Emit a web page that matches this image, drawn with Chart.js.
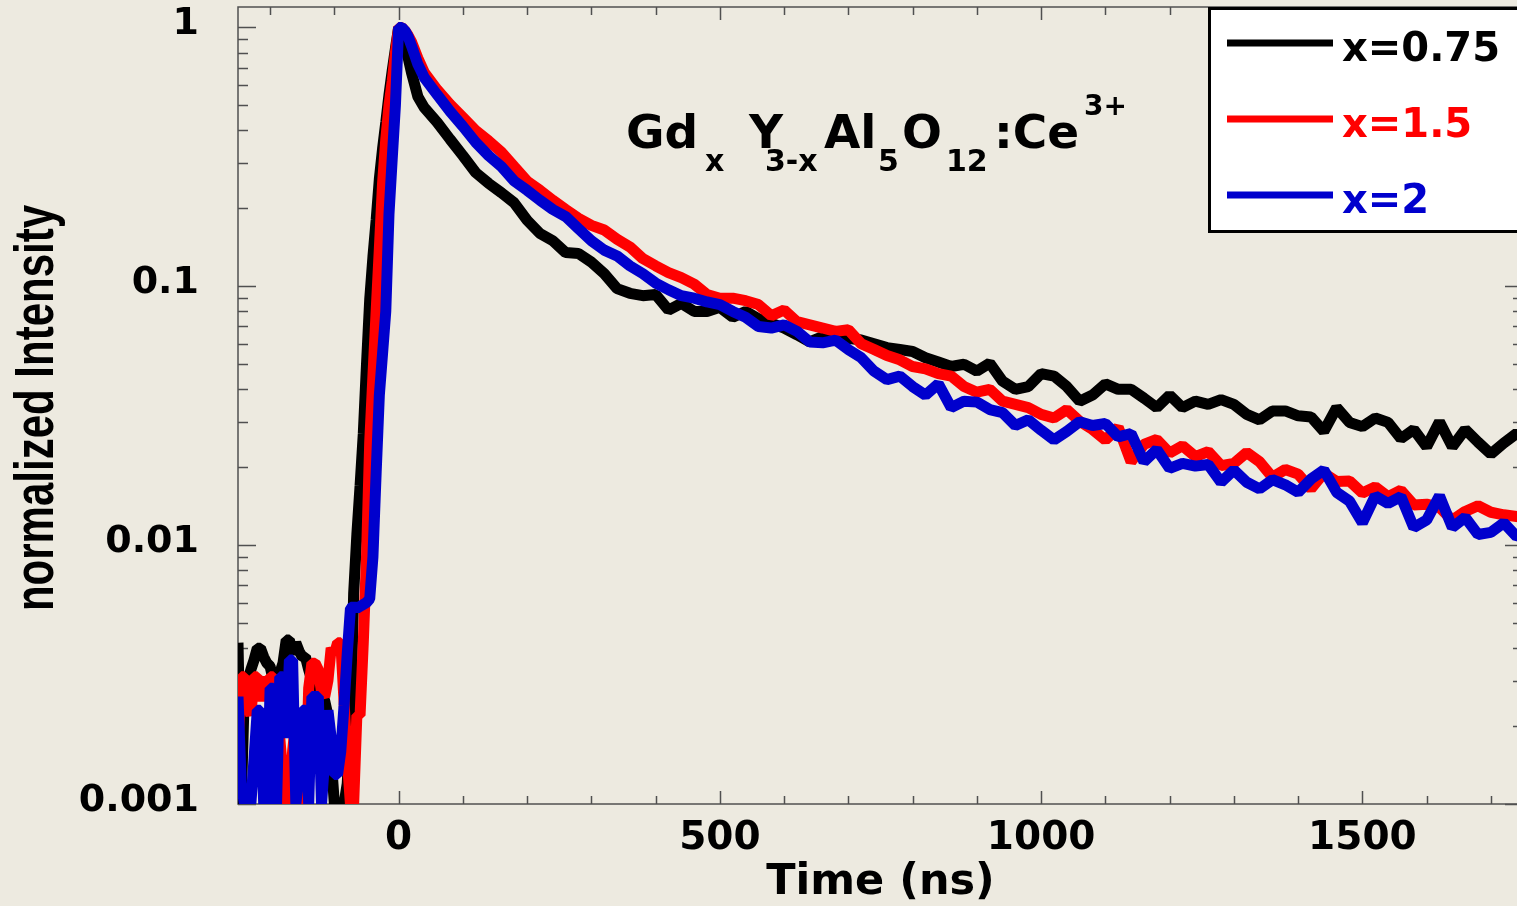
<!DOCTYPE html>
<html>
<head>
<meta charset="utf-8">
<title>GdxY3-xAl5O12:Ce3+ decay</title>
<script src="https://cdn.jsdelivr.net/npm/chart.js@4.4.1/dist/chart.umd.min.js"></script>
<style>
    html, body { margin: 0; padding: 0; overflow: hidden; background: #EDEAE0; }
    #wrap { width: 1524px; height: 906px; }
</style>
</head>
<body>
<div id="wrap"><canvas id="decayChart" width="1524" height="906"></canvas></div>
<script>
// Time axis (ns), shared by the three curves
const timeNs = [
    -250, -245, -240, -235, -230, -225, -220, -215, -210, -205,
    -200, -195, -190, -185, -180, -175, -170, -165, -160, -155,
    -150, -145, -140, -135, -130, -125, -120, -115, -110, -105,
    -100, -95, -90, -85, -80,
    -75, -70, -65, -60, -55, -50, -45, -40, -35, -30,
    -25, -20, -15, -10, -5, 0, 5, 10, 15, 20,
    30, 40, 60, 80, 100, 120, 140, 160, 180, 200,
    220, 240, 260, 280, 300, 320, 340, 360, 380, 400,
    420, 440, 460, 480, 500, 520, 540, 560, 580, 600,
    620, 640, 660, 680, 700, 720, 740, 760, 780, 800,
    820, 840, 860, 880, 900, 920, 940, 960, 980, 1000,
    1020, 1040, 1060, 1080, 1100, 1120, 1140, 1160, 1180, 1200,
    1220, 1240, 1260, 1280, 1300, 1320, 1340, 1360, 1380, 1400,
    1420, 1440, 1460, 1480, 1500, 1520, 1540, 1560, 1580, 1600,
    1620, 1640, 1660, 1680, 1700, 1720, 1740, 1750
];

// normalized intensity, x = 0.75
const x075Values = [
    0.0042, 0.001, 0.0028, 0.003, 0.0033, 0.0036, 0.004, 0.004, 0.0037, 0.0035,
    0.0034, 0.003, 0.0028, 0.0032, 0.0035, 0.0043, 0.0043, 0.0038, 0.0042, 0.0039,
    0.0037, 0.0037, 0.0033, 0.003, 0.003, 0.0028, 0.0027, 0.0025, 0.0022, 0.0015,
    0.001, 0.001, 0.001, 0.001, 0.0012,
    0.002, 0.0065, 0.011, 0.017, 0.027, 0.05, 0.089, 0.13, 0.18, 0.26,
    0.34, 0.43, 0.55, 0.68, 0.83, 1.0, 0.98, 0.86, 0.76, 0.67,
    0.54, 0.49, 0.43, 0.37, 0.32, 0.275, 0.25, 0.23, 0.21, 0.18,
    0.16, 0.15, 0.135, 0.134, 0.124, 0.112, 0.098, 0.094, 0.092, 0.093,
    0.081, 0.086, 0.080, 0.080, 0.083, 0.076, 0.080, 0.075, 0.072, 0.069,
    0.065, 0.061, 0.064, 0.067, 0.063, 0.062, 0.060, 0.058, 0.057, 0.056,
    0.053, 0.051, 0.049, 0.050, 0.047, 0.0505, 0.043, 0.040, 0.041, 0.046,
    0.045, 0.041, 0.036, 0.038, 0.042, 0.040, 0.040, 0.037, 0.034, 0.038,
    0.034, 0.036, 0.035, 0.0365, 0.035, 0.032, 0.0305, 0.033, 0.033, 0.0316,
    0.0313, 0.0275, 0.034, 0.0298, 0.0287, 0.031, 0.0298, 0.0258, 0.028, 0.024,
    0.030, 0.024, 0.028, 0.025, 0.0225, 0.0248, 0.027, 0.026
];

// normalized intensity, x = 1.5
const x15Values = [
    0.0017, 0.0031, 0.0031, 0.0024, 0.0022, 0.0031, 0.0031, 0.0025, 0.0031, 0.0025,
    0.0031, 0.0031, 0.0024, 0.0018, 0.0013, 0.001, 0.001, 0.0016, 0.0021, 0.0021,
    0.001, 0.001, 0.0028, 0.0035, 0.0035, 0.0033, 0.0027, 0.0026, 0.003, 0.004,
    0.0038, 0.0042, 0.0042, 0.0025, 0.0015,
    0.001, 0.001, 0.0022, 0.0022, 0.0042, 0.009, 0.025, 0.045, 0.08, 0.14,
    0.25, 0.37, 0.5, 0.62, 0.8, 1.0, 1.0, 0.97, 0.93, 0.88,
    0.76, 0.67, 0.575, 0.505, 0.45, 0.40, 0.365, 0.33, 0.29, 0.255,
    0.235, 0.215, 0.198, 0.183, 0.172, 0.165, 0.152, 0.142, 0.128, 0.12,
    0.113, 0.108, 0.102, 0.093, 0.09, 0.09, 0.088, 0.085, 0.077, 0.081,
    0.073, 0.071, 0.069, 0.067, 0.068, 0.060, 0.057, 0.054, 0.052, 0.049,
    0.048, 0.046, 0.045, 0.041, 0.039, 0.040, 0.036, 0.035, 0.034, 0.032,
    0.031, 0.0334, 0.0301, 0.028, 0.0255, 0.0285, 0.021, 0.0245, 0.0256, 0.0227,
    0.0242, 0.022, 0.023, 0.0203, 0.0207, 0.0228, 0.021, 0.0183, 0.0196, 0.0188,
    0.0165, 0.019, 0.0176, 0.0177, 0.0159, 0.0168, 0.0154, 0.0163, 0.0143, 0.0144,
    0.014, 0.0125, 0.0135, 0.0142, 0.0134, 0.0131, 0.0129, 0.0128
];

// normalized intensity, x = 2
const x2Values = [
    0.0026, 0.0012, 0.001, 0.001, 0.001, 0.0015, 0.0023, 0.0023, 0.001, 0.001,
    0.0028, 0.0028, 0.001, 0.0031, 0.0031, 0.0018, 0.0036, 0.0036, 0.001, 0.0013,
    0.0023, 0.0023, 0.001, 0.0026, 0.0026, 0.0026, 0.001, 0.0015, 0.0023, 0.0018,
    0.0013, 0.0013, 0.0016, 0.0024, 0.0038,
    0.0057, 0.0058, 0.0057, 0.0058, 0.0059, 0.006, 0.0062, 0.009, 0.019, 0.038,
    0.055, 0.08, 0.19, 0.31, 0.5, 1.0, 1.0, 0.97, 0.92, 0.85,
    0.72, 0.64, 0.55, 0.474, 0.415, 0.36, 0.32, 0.29, 0.255, 0.235,
    0.215, 0.198, 0.186, 0.167, 0.15, 0.138, 0.131, 0.12, 0.112, 0.103,
    0.097, 0.092, 0.09, 0.087, 0.085, 0.08, 0.076, 0.07, 0.069, 0.071,
    0.067, 0.061, 0.0605, 0.062, 0.057, 0.053, 0.047, 0.0436, 0.045, 0.041,
    0.038, 0.042, 0.034, 0.036, 0.0357, 0.0334, 0.0325, 0.029, 0.0305, 0.0278,
    0.0255, 0.0275, 0.030, 0.029, 0.0295, 0.0262, 0.027, 0.021, 0.0234, 0.0198,
    0.0207, 0.0202, 0.0205, 0.0175, 0.0195, 0.0175, 0.0165, 0.0179, 0.0171, 0.016,
    0.018, 0.0195, 0.016, 0.0148, 0.0122, 0.0155, 0.0145, 0.0154, 0.0117, 0.0125,
    0.0155, 0.0117, 0.0128, 0.011, 0.0112, 0.0122, 0.0108, 0.011
];

const seriesLabels = ['x=0.75', 'x=1.5', 'x=2'];
const seriesColors = ['#000000', '#FF0000', '#0000CD'];

// tick labels
const xTickValues = [0, 500, 1000, 1500];
const yTickValues = [0.001, 0.01, 0.1, 1];

function toPoints(values) {
    return timeNs.map((t, i) => ({x: t, y: values[i]}));
}

// Frame with inward tick marks on all four sides
const frameTicks = {
    id: 'frameTicks',
    beforeDatasetsDraw(chart) {
        const {ctx, chartArea: a, scales: {x, y}} = chart;
        ctx.save();
        ctx.strokeStyle = '#505050';
        ctx.lineWidth = 1.5;
        ctx.strokeRect(a.left, a.top, a.right - a.left, a.bottom - a.top);

        ctx.beginPath();
        for (let v = -200; v <= x.max; v += 100) {
            const px = Math.round(x.getPixelForValue(v)) + 0.5;
            const len = v % 500 === 0 ? 13 : 8;
            ctx.moveTo(px, a.bottom); ctx.lineTo(px, a.bottom - len);
            ctx.moveTo(px, a.top); ctx.lineTo(px, a.top + len);
        }
        for (let e = -3; e <= 0; e++) {
            for (let m = 1; m <= 9; m++) {
                const v = m * Math.pow(10, e);
                if (v > y.max) break;
                const py = Math.round(y.getPixelForValue(v)) + 0.5;
                const len = m === 1 ? 18 : 10;
                ctx.moveTo(a.left, py); ctx.lineTo(a.left + len, py);
                ctx.moveTo(a.right, py); ctx.lineTo(a.right - len, py);
            }
        }
        ctx.stroke();

        // y axis title, a little widened like the original
        ctx.translate(53, 408);
        ctx.rotate(-Math.PI / 2);
        ctx.scale(1, 1.3);
        ctx.fillStyle = '#000000';
        ctx.font = 'bold 42px "Liberation Sans"';
        ctx.textAlign = 'center';
        ctx.textBaseline = 'alphabetic';
        ctx.fillText('normalized Intensity', 0, 0);
        ctx.restore();
    }
};

// Boxed legend in the top right corner and the compound label
const boxLegend = {
    id: 'boxLegend',
    afterDraw(chart) {
        const ctx = chart.ctx;
        ctx.save();
        ctx.fillStyle = '#ffffff';
        ctx.fillRect(1208, 7, 340, 226);
        ctx.strokeStyle = '#000000';
        ctx.lineWidth = 3;
        ctx.strokeRect(1209.5, 8.5, 340, 223);

        ctx.font = 'bold 40px "DejaVu Sans"';
        ctx.textBaseline = 'alphabetic';
        ctx.textAlign = 'left';
        chart.data.datasets.forEach((ds, i) => {
            const yy = 43 + i * 76;
            ctx.strokeStyle = ds.borderColor;
            ctx.lineWidth = 7;
            ctx.beginPath();
            ctx.moveTo(1227, yy);
            ctx.lineTo(1333, yy);
            ctx.stroke();
            ctx.fillStyle = ds.borderColor;
            ctx.fillText(ds.label, 1342, yy + 18);
        });

        // Gd_x Y_3-x Al_5 O_12 :Ce^3+
        const parts = [
            ['Gd', 626, 148, 47], ['x', 705, 171, 30],
            ['Y', 749, 148, 47], ['3-x', 765, 171, 30],
            ['Al', 824, 148, 47], ['5', 878, 171, 30],
            ['O', 902, 148, 47], ['12', 946, 171, 30],
            [':Ce', 994, 148, 47], ['3+', 1084, 115, 28]
        ];
        ctx.fillStyle = '#000000';
        parts.forEach(([txt, px, py, size]) => {
            ctx.font = 'bold ' + size + 'px "DejaVu Sans"';
            ctx.fillText(txt, px, py);
        });
        ctx.restore();
    }
};

const ctx = document.getElementById('decayChart').getContext('2d');
const decayChart = new Chart(ctx, {
    type: 'line',
    data: {
        datasets: [{
            label: seriesLabels[0],
            data: toPoints(x075Values),
            borderColor: seriesColors[0],
            borderWidth: 11,
            order: 3
        }, {
            label: seriesLabels[1],
            data: toPoints(x15Values),
            borderColor: seriesColors[1],
            borderWidth: 11,
            order: 2
        }, {
            label: seriesLabels[2],
            data: toPoints(x2Values),
            borderColor: seriesColors[2],
            borderWidth: 11,
            order: 1
        }]
    },
    options: {
        responsive: false,
        devicePixelRatio: 1,
        animation: false,
        layout: {
            padding: {top: 7, right: 1, bottom: 0, left: 0}
        },
        elements: {
            point: {radius: 0},
            line: {tension: 0, borderJoinStyle: 'bevel', fill: false}
        },
        plugins: {
            legend: {display: false},
            tooltip: {enabled: false}
        },
        scales: {
            x: {
                type: 'linear',
                min: -250,
                max: 1750,
                afterBuildTicks: (scale) => {
                    scale.ticks = xTickValues.map(v => ({value: v}));
                },
                afterFit: (scale) => {
                    scale.height = 102;
                    scale.paddingLeft = 0;
                    scale.paddingRight = 0;
                },
                grid: {display: false, drawTicks: false},
                border: {display: false},
                ticks: {
                    color: '#000',
                    padding: 11,
                    maxRotation: 0,
                    autoSkip: false,
                    callback: (value) => String(value),
                    font: {family: 'DejaVu Sans', weight: 'bold', size: 39}
                },
                title: {
                    display: true,
                    text: 'Time (ns)',
                    color: '#000',
                    padding: {top: 0, bottom: 2},
                    font: {family: 'DejaVu Sans', weight: 'bold', size: 43, lineHeight: 1}
                }
            },
            y: {
                type: 'logarithmic',
                min: 0.001,
                max: 1.2,
                afterBuildTicks: (scale) => {
                    scale.ticks = yTickValues.map(v => ({value: v}));
                },
                afterFit: (scale) => {
                    scale.width = 238;
                    scale.paddingTop = 0;
                    scale.paddingBottom = 0;
                },
                grid: {display: false, drawTicks: false},
                border: {display: false},
                ticks: {
                    color: '#000',
                    padding: 39,
                    labelOffset: -3,
                    autoSkip: false,
                    callback: (value) => String(value),
                    font: {family: 'DejaVu Sans', weight: 'bold', size: 38}
                }
            }
        }
    },
    plugins: [frameTicks, boxLegend]
});
</script>
</body>
</html>
